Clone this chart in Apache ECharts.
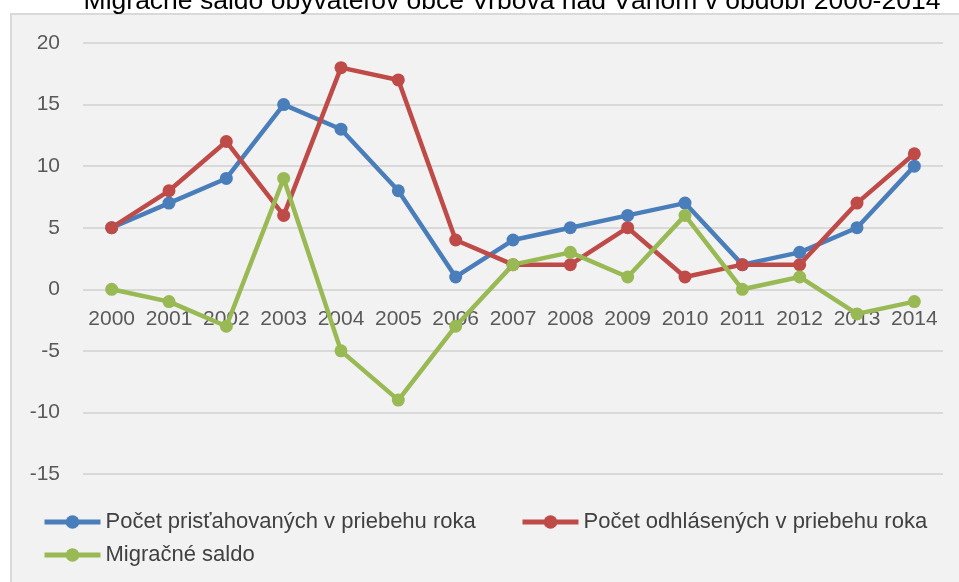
<!DOCTYPE html>
<html>
<head>
<meta charset="utf-8">
<script src="https://cdn.jsdelivr.net/npm/echarts@6/dist/echarts.min.js"></script>
<style>
  html, body { margin: 0; padding: 0; background: #fff; }
  #main { width: 959px; height: 582px; }
</style>
</head>
<body>
<div id="main"></div>
<script>
var years = ['2000', '2001', '2002', '2003', '2004', '2005', '2006', '2007',
  '2008', '2009', '2010', '2011', '2012', '2013', '2014'];
var prisahovani = [5, 7, 9, 15, 13, 8, 1, 4, 5, 6, 7, 2, 3, 5, 10];
var odhlaseni = [5, 8, 12, 6, 18, 17, 4, 2, 2, 5, 1, 2, 2, 7, 11];
var saldo = [0, -1, -3, 9, -5, -9, -3, 2, 3, 1, 6, 0, 1, -2, -1];
var seriesNames = ['Počet prisťahovaných v priebehu roka', 'Počet odhlásených v priebehu roka', 'Migračné saldo'];
var colors = ['#4a7ebb', '#be4b48', '#98b954'];

var font = '"Liberation Sans", Arial, sans-serif';
var chart = echarts.init(document.getElementById('main'));

function lineSeries(name, data, color) {
  return {
    name: name,
    type: 'line',
    data: data,
    symbol: 'circle',
    symbolSize: 13,
    lineStyle: { width: 4.5, color: color },
    itemStyle: { color: color },
    z: 3
  };
}

// one legend per item so they sit where excel put them
function legendItem(name, left, top) {
  return {
    data: [name],
    left: left,
    top: top,
    padding: 0,
    itemWidth: 56,
    itemHeight: 17,
    itemGap: 4,
    lineStyle: { width: 5 },
    textStyle: { fontFamily: font, fontSize: 22, color: '#404040' }
  };
}

var option = {
  backgroundColor: '#ffffff',
  color: colors,
  animation: false,
  graphic: [{
    type: 'rect',
    shape: { x: 11, y: 14, width: 1000, height: 1000 },
    style: { fill: '#f2f2f2', stroke: '#d9d9d9', lineWidth: 2 },
    z: -10
  }],
  title: {
    text: 'Migračné saldo obyvateľov obce Vrbová nad Váhom v období 2000-2014',
    left: 507,
    textAlign: 'center',
    top: -17,
    textStyle: { fontFamily: font, fontSize: 26.5, fontWeight: 'normal', color: '#000' }
  },
  legend: [
    legendItem(seriesNames[0], 42, 511),
    legendItem(seriesNames[1], 520, 511),
    legendItem(seriesNames[2], 42, 544)
  ],
  grid: { left: 83, right: 16, top: 43, bottom: 108 },
  xAxis: {
    type: 'category',
    data: years,
    boundaryGap: true,
    // labels hang under the zero line
    offset: -185,
    axisLine: { show: false },
    axisTick: { show: false },
    axisLabel: { fontFamily: font, fontSize: 21, color: '#595959', margin: 20, interval: 0 }
  },
  yAxis: {
    type: 'value',
    min: -15,
    max: 20,
    interval: 5,
    axisLine: { show: false },
    axisTick: { show: false },
    axisLabel: { fontFamily: font, fontSize: 21, color: '#595959', margin: 23 },
    splitLine: { lineStyle: { color: '#d9d9d9', width: 2 } }
  },
  series: [
    lineSeries(seriesNames[0], prisahovani, colors[0]),
    lineSeries(seriesNames[1], odhlaseni, colors[1]),
    lineSeries(seriesNames[2], saldo, colors[2])
  ]
};

chart.setOption(option);
</script>
</body>
</html>
